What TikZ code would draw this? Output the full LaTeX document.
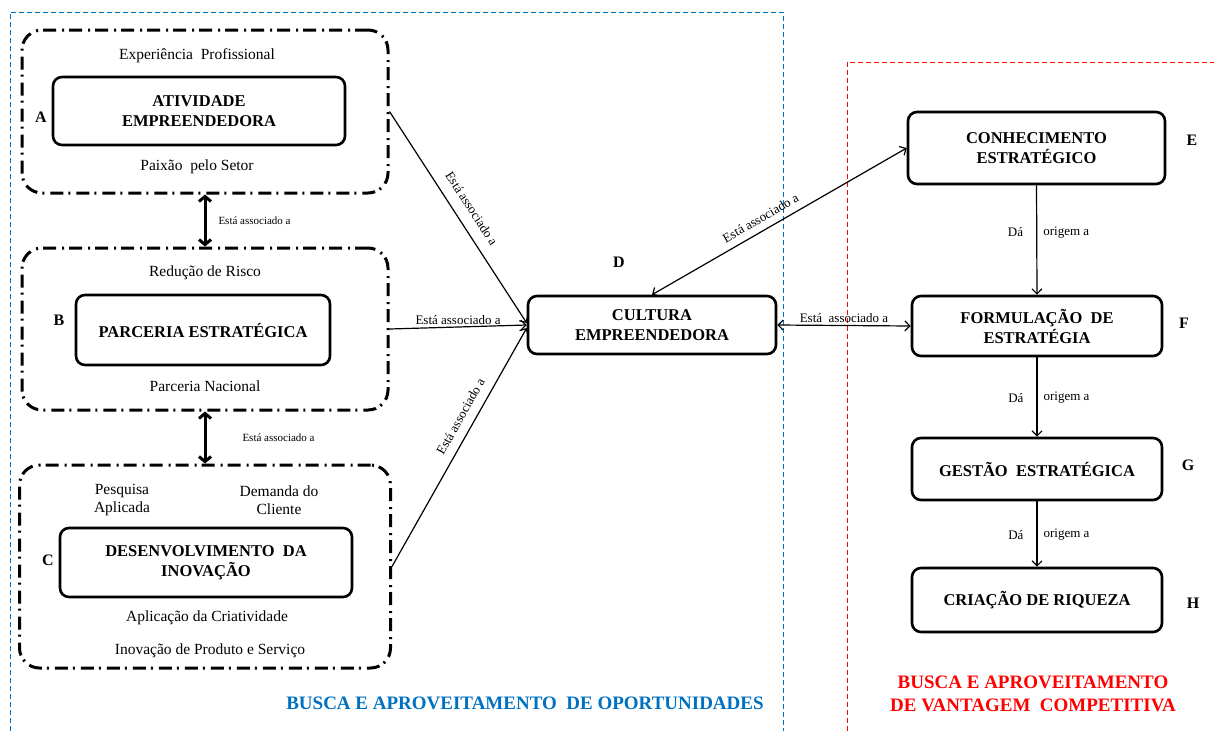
\documentclass[tikz,border=0pt]{standalone}
\usepackage{fontspec}
\setmainfont{Liberation Serif}
\usetikzlibrary{arrows.meta}
\definecolor{bblue}{RGB}{0,112,192}
\definecolor{rred}{RGB}{255,0,0}
\begin{document}
\begin{tikzpicture}[x=1pt,y=-1pt,
  grp/.style={draw, line width=3pt, rounded corners=20pt, dash pattern=on 13pt off 5pt on 2pt off 6pt, inner sep=0pt},
  box/.style={draw, line width=2.6pt, rounded corners=9pt, align=center, font=\fontsize{16.5}{20}\selectfont\bfseries, inner sep=2pt},
  sub/.style={font=\fontsize{15.5}{18}\selectfont, align=center, inner sep=0pt},
  letter/.style={font=\fontsize{16}{18}\selectfont\bfseries, inner sep=0pt},
  lab/.style={font=\fontsize{13}{15}\selectfont, inner sep=1pt},
  slab/.style={font=\fontsize{11}{13}\selectfont, inner sep=1pt},
  conn/.style={line width=1.2pt, -{Straight Barb[length=5pt,width=10pt]}},
  dconn/.style={line width=1.2pt, {Straight Barb[length=5pt,width=10pt]}-{Straight Barb[length=5pt,width=10pt]}},
  bigdbl/.style={line width=3pt, {Straight Barb[length=5pt,width=12pt]}-{Straight Barb[length=5pt,width=12pt]}},
  title/.style={font=\fontsize{19}{23}\selectfont\bfseries, align=center, inner sep=0pt},
]
\useasboundingbox (0,0) rectangle (1214,731);

% region borders
\draw[bblue, line width=1pt, dash pattern=on 5pt off 3pt] (10,731) -- (10,12) -- (783,12) -- (783,731);
\draw[rred, line width=1pt, dash pattern=on 5pt off 3pt] (847,731) -- (847,62) -- (1214,62);

% groups
\node[grp, minimum width=366pt, minimum height=163pt] (gA) at (205,111.5) {};
\node[grp, minimum width=366pt, minimum height=162pt] (gB) at (205,329) {};
\node[grp, minimum width=371pt, minimum height=203pt] (gC) at (205,566.5) {};

% boxes
\node[box, minimum width=292pt, minimum height=68pt] (A) at (199,111) {ATIVIDADE\\EMPREENDEDORA};
\node[box, minimum width=254pt, minimum height=70pt] (B) at (203,330) {PARCERIA ESTRATÉGICA};
\node[box, minimum width=292pt, minimum height=69pt] (C) at (206,562.5) {DESENVOLVIMENTO\ \ DA\\INOVAÇÃO};
\node[box, minimum width=248pt, minimum height=58pt] (D) at (652,325) {CULTURA\\EMPREENDEDORA};
\node[box, minimum width=257pt, minimum height=72pt] (E) at (1036.5,148) {CONHECIMENTO\\ESTRATÉGICO};
\node[box, minimum width=250pt, minimum height=60pt] (F) at (1037,326) {FORMULAÇÃO\ \ DE\\ESTRATÉGIA};
\node[box, minimum width=250pt, minimum height=62pt] (G) at (1037,469) {GESTÃO\ \ ESTRATÉGICA};
\node[box, minimum width=250pt, minimum height=64pt] (H) at (1037,600) {CRIAÇÃO DE RIQUEZA};

% group texts
\node[sub] (tA1) at (197,56) {Experiência\ \ Profissional};
\node[sub] (tA2) at (197,167) {Paixão\ \ pelo Setor};
\node[sub] (tB1) at (205,273) {Redução de Risco};
\node[sub] (tB2) at (205,386) {Parceria Nacional};
\node[sub] (tC1) at (122,500) {Pesquisa\\Aplicada};
\node[sub] (tC2) at (279,500) {Demanda do\\Cliente};
\node[sub] (tC3) at (207,618) {Aplicação da Criatividade};
\node[sub] (tC4) at (210,651) {Inovação de Produto e Serviço};

% letters
\node[letter] (lA) at (41,117) {A};
\node[letter] (lB) at (59,320) {B};
\node[letter] (lC) at (48,560) {C};
\node[letter] (lD) at (619,262) {D};
\node[letter] (lE) at (1192,140) {E};
\node[letter] (lF) at (1184,323) {F};
\node[letter] (lG) at (1188,465) {G};
\node[letter] (lH) at (1193,603) {H};

% connectors between groups
\draw[bigdbl] (gA.south) -- (gB.north) node[midway, right=11pt, slab] {Está associado a};
\draw[bigdbl] (gB.south) -- (gC.north) node[midway, right=35pt, slab] {Está associado a};

% connectors to D
\draw[conn] (gA.east) -- ([yshift=2pt]D.west) node[midway, sloped, above=10pt, lab] {Está associado a};
\draw[conn] (gB.east) -- (D.west) node[midway, above=1pt, lab] {Está associado a};
\draw[conn] (gC.east) -- ([yshift=-3pt]D.west) node[pos=0.6, sloped, above=8pt, lab] {Está associado a};
\draw[dconn] (D.north) -- (E.west) node[pos=0.45, sloped, above=6pt, lab] {Está associado a};
\draw[dconn] (D.east) -- (F.west) node[midway, above=1pt, lab] {Está\ \ associado a};

% chain
\draw[conn] (E.south) -- (F.north) node[pos=0.43, left=12pt, lab] {Dá} node[pos=0.43, right=5pt, lab] {origem a};
\draw[conn] (F.south) -- (G.north) node[pos=0.51, left=12pt, lab] {Dá} node[pos=0.51, right=5pt, lab] {origem a};
\draw[conn] (G.south) -- (H.north) node[pos=0.51, left=12pt, lab] {Dá} node[pos=0.51, right=5pt, lab] {origem a};

% titles
\node[title, text=bblue] (t1) at (525,703) {BUSCA E APROVEITAMENTO\ \ DE OPORTUNIDADES};
\node[title, text=rred] (t2) at (1033,694) {BUSCA E APROVEITAMENTO\\DE VANTAGEM\ \ COMPETITIVA};
\end{tikzpicture}
\end{document}
